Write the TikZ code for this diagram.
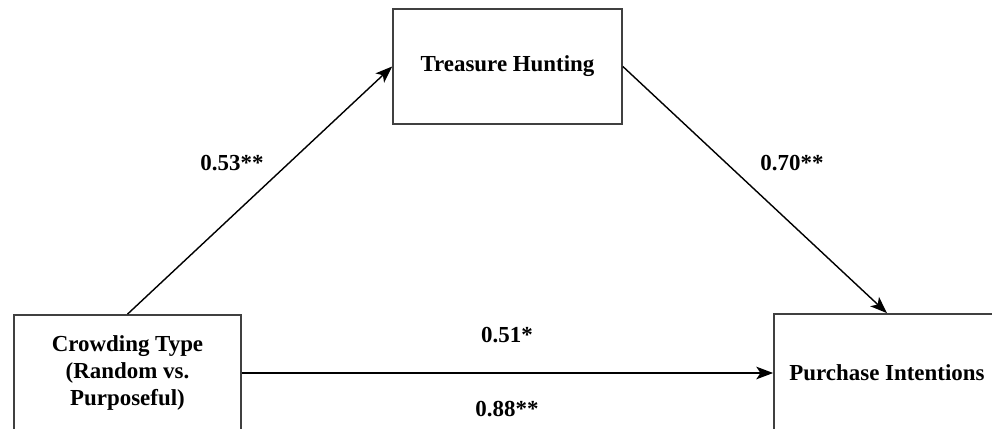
\documentclass[tikz,border=0pt]{standalone}
\usepackage{fontspec}
\setmainfont{Liberation Serif}
\usetikzlibrary{arrows.meta}
\begin{document}
\begin{tikzpicture}[x=0.025cm, y=-0.025cm,
        box/.style={draw=black!75, line width=1.2pt, fill=white, align=center,
            inner sep=0pt, font=\bfseries\fontsize{16.3}{19}\selectfont},
        link/.style={draw=black, line width=1pt, -{Stealth[length=12pt, width=9pt, inset=3pt]}},
        weight/.style={font=\bfseries\fontsize{16.3}{19}\selectfont}]
        \useasboundingbox (0,0) rectangle (992,428);
        \clip (0,0) rectangle (992,428);
        \node[box, minimum width=5.725cm, minimum height=2.875cm] (hunt) at (507.5,66.5) {Treasure Hunting};
        \node[box, minimum width=5.675cm, minimum height=2.9cm] (crowd) at (127.5,373) {Crowding Type\\(Random vs.\\Purposeful)};
        \node[box, minimum width=5.65cm, minimum height=2.95cm] (buy) at (887,373) {Purchase Intentions};
        \draw[link] (crowd.north) -- (hunt.west);
        \draw[link] (hunt.east) -- (buy.north);
        \draw[link] (crowd.east) -- (buy.west);
        \node[weight] (w1) at (232,163) {0.53**};
        \node[weight] (w2) at (792,163) {0.70**};
        \node[weight] (w3) at (507,335) {0.51*};
        \node[weight] (w4) at (507,409) {0.88**};
    \end{tikzpicture}
\end{document}
